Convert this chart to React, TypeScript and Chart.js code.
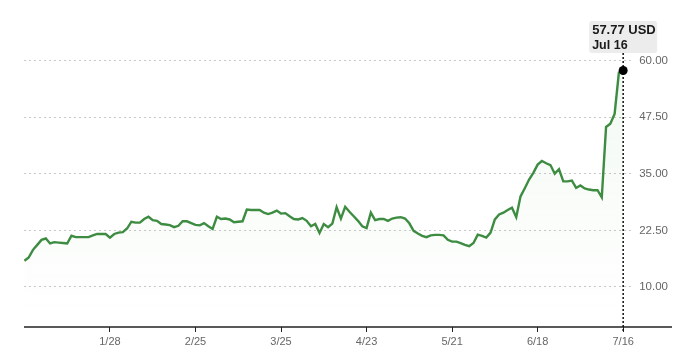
import { useEffect, useRef } from 'react';
import { Chart, registerables } from 'chart.js';
Chart.register(...registerables);

// Daily closing prices (USD), one per trading day
const prices: number[] = [
  15.8, 16.5, 18.2, 19.3, 20.4, 20.7, 19.6, 19.9, 19.8, 19.7,
  19.6, 21.3, 21.0, 21.0, 21.0, 21.0, 21.4, 21.7, 21.7, 21.7,
  20.9, 21.7, 22.0, 22.1, 22.9, 24.4, 24.2, 24.2, 25.0, 25.5,
  24.75, 24.6, 23.9, 23.8, 23.65, 23.2, 23.5, 24.5, 24.5, 24.1,
  23.7, 23.6, 24.1, 23.4, 22.8, 25.5, 25.0, 25.1, 24.9, 24.3,
  24.4, 24.5, 27.1, 27.0, 27.0, 27.0, 26.4, 26.1, 26.4, 26.85,
  26.2, 26.3, 25.6, 25.0, 24.9, 25.2, 24.6, 23.4, 23.9, 21.9,
  23.9, 23.2, 24.0, 27.6, 25.1, 27.7, 26.6, 25.6, 24.6, 23.4,
  23.0, 26.4, 24.75, 25.0, 25.0, 24.6, 25.1, 25.3, 25.4, 25.1,
  24.05, 22.4, 21.8, 21.3, 21.0, 21.4, 21.5, 21.5, 21.4, 20.4,
  20.0, 20.0, 19.7, 19.3, 19.0, 19.7, 21.55, 21.3, 20.9, 22.0,
  24.9, 26.0, 26.4, 27.0, 27.5, 25.4, 30.0, 31.8, 33.7, 35.2,
  37.0, 37.8, 37.3, 36.9, 35.0, 36.0, 33.3, 33.3, 33.5, 31.85,
  32.4, 31.75, 31.5, 31.35, 31.35, 29.8, 45.3, 46.0, 48.2, 57.3,
  57.77,
];

const xTickIndices: number[] = [20, 40, 60, 80, 100, 120, 140];
const xTickLabels: string[] = ['1/28', '2/25', '3/25', '4/23', '5/21', '6/18', '7/16'];
const yTickValues: number[] = [10, 22.5, 35, 47.5, 60];
const lastPriceLabel = '57.77 USD';
const lastDateLabel = 'Jul 16';

export default function App() {
  const ref = useRef<HTMLCanvasElement>(null);

  useEffect(() => {
    document.body.style.margin = '0';
    const canvas = ref.current!;
    const overlay = {
      id: 'overlay',
      afterDatasetsDraw(chart: any) {
        const { ctx, chartArea, scales } = chart;
        const xs = scales.x;
        const ys = scales.y;
        const lastI = prices.length - 1;
        const px = xs.getPixelForValue(lastI);
        const py = ys.getPixelForValue(prices[lastI]);
        ctx.save();
        // baseline
        ctx.strokeStyle = '#222';
        ctx.lineWidth = 1.5;
        ctx.beginPath();
        ctx.moveTo(chartArea.left, chartArea.bottom);
        ctx.lineTo(672, chartArea.bottom);
        ctx.stroke();
        // tooltip box
        const bw = 68;
        const bh = 32;
        const bx = px - 34;
        const by = 21;
        ctx.fillStyle = '#ececec';
        ctx.beginPath();
        (ctx as any).roundRect(bx, by, bw, bh, 3);
        ctx.fill();
        // dotted vertical line
        ctx.setLineDash([2, 2]);
        ctx.lineWidth = 1.5;
        ctx.strokeStyle = '#111';
        ctx.beginPath();
        ctx.moveTo(px, by + bh);
        ctx.lineTo(px, chartArea.bottom + 4);
        ctx.stroke();
        ctx.setLineDash([]);
        // dot
        ctx.fillStyle = '#000';
        ctx.beginPath();
        ctx.arc(px, py, 4.5, 0, Math.PI * 2);
        ctx.fill();
        // texts
        ctx.fillStyle = '#1a1a1a';
        ctx.textAlign = 'left';
        ctx.textBaseline = 'middle';
        ctx.font = '600 13px "Liberation Sans", Arial, sans-serif';
        ctx.fillText(lastPriceLabel, bx + 3, by + 9);
        ctx.font = '600 12.5px "Liberation Sans", Arial, sans-serif';
        ctx.fillText(lastDateLabel, bx + 3, by + 24.5);
        ctx.restore();
      },
    };

    const chart = new Chart(canvas, {
      type: 'line',
      data: {
        datasets: [
          {
            data: prices.map((v, i) => ({ x: i, y: v })),
            borderColor: '#3d8c42',
            borderWidth: 2.4,
            pointRadius: 0,
            tension: 0,
            fill: 'start',
            backgroundColor: (c: any) => {
              const area = c.chart.chartArea;
              if (!area) return 'rgba(90,175,90,0.03)';
              const g = c.chart.ctx.createLinearGradient(0, area.top, 0, area.bottom);
              g.addColorStop(0, 'rgba(90,175,90,0.08)');
              g.addColorStop(1, 'rgba(90,175,90,0.0)');
              return g;
            },
          },
        ],
      },
      options: {
        responsive: false,
        animation: false,
        events: [],
        layout: { padding: { left: 24, right: 12, top: 50, bottom: 0 } },
        plugins: { legend: { display: false }, tooltip: { enabled: false } },
        scales: {
          x: {
            type: 'linear',
            min: -0.1,
            max: 142.3,
            afterFit(scale: any) {
              scale.height = 31;
            },
            afterBuildTicks(scale: any) {
              scale.ticks = xTickIndices.map((v) => ({ value: v }));
            },
            ticks: {
              autoSkip: false,
              maxRotation: 0,
              padding: 3,
              color: '#666',
              font: { size: 11, family: '"Liberation Sans", Arial, sans-serif' },
              callback: (v: any) => {
                const k = xTickIndices.indexOf(Number(v));
                return k >= 0 ? xTickLabels[k] : '';
              },
            },
            grid: {
              drawOnChartArea: false,
              drawTicks: true,
              tickLength: 5,
              color: '#222',
            },
            border: { display: false },
          },
          y: {
            position: 'right',
            min: 1.174,
            max: 62.29,
            afterFit(scale: any) {
              scale.width = 35;
            },
            afterBuildTicks(scale: any) {
              scale.ticks = yTickValues.map((v) => ({ value: v }));
            },
            ticks: {
              crossAlign: 'far',
              padding: 0,
              color: '#666',
              font: { size: 11.5, family: '"Liberation Sans", Arial, sans-serif' },
              callback: (v: any) => Number(v).toFixed(2),
            },
            grid: {
              drawTicks: false,
              color: '#c8c8c8',
              lineWidth: 1,
            },
            border: { display: false, dash: [2, 3] },
          },
        },
      },
      plugins: [overlay],
    });
    return () => chart.destroy();
  }, []);

  return (
    <div style={{ position: 'fixed', left: 0, top: 0, width: 680, height: 358 }}>
      <canvas ref={ref} width={680} height={358} />
    </div>
  );
}
